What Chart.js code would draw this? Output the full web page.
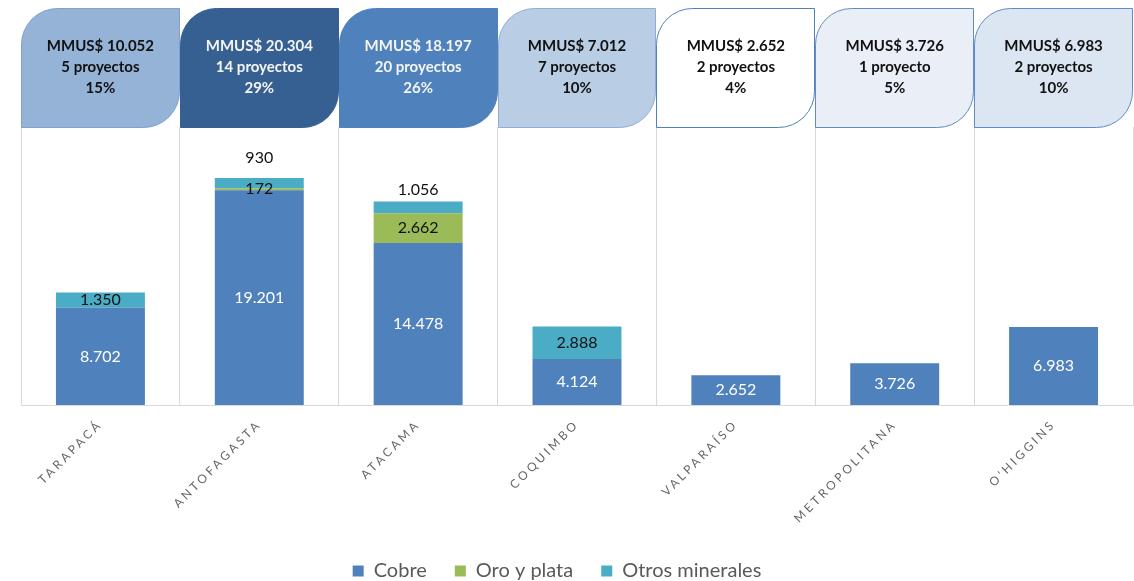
<!DOCTYPE html>
<html lang="es">
<head>
<meta charset="utf-8">
<title>Inversión minera por región</title>
<script src="https://cdn.jsdelivr.net/npm/chart.js@4.4.1/dist/chart.umd.min.js"></script>
<style>
  html, body { margin: 0; padding: 0; background: #ffffff; }
  #wrap { width: 1134px; height: 581px; }
</style>
</head>
<body>
<div id="wrap"><canvas id="mineriaChart"></canvas></div>
<script>
/*====================================
        DATA
====================================*/

const regiones = ["TARAPACÁ", "ANTOFAGASTA", "ATACAMA", "COQUIMBO",
                  "VALPARAÍSO", "METROPOLITANA", "O'HIGGINS"];

const cobre    = [8702, 19201, 14478, 4124, 2652, 3726, 6983];
const oroPlata = [0, 172, 2662, 0, 0, 0, 0];
const otros    = [1350, 930, 1056, 2888, 0, 0, 0];

// header boxes
const totalMMUS     = [10052, 20304, 18197, 7012, 2652, 3726, 6983];
const proyectos     = [5, 14, 20, 7, 2, 1, 2];
const participacion = [15, 29, 26, 10, 4, 5, 10];

const yMax = 24860;

/*====================================
        HELPERS
====================================*/

function fmt(v){
    return String(v).replace(/\B(?=(\d{3})+(?!\d))/g, ".");
}

const boxFill   = ["#95b3d7", "#376092", "#4f81bd", "#b9cde5", "#ffffff", "#e9eef7", "#dce6f2"];
const boxStroke = ["#7fa1cc", "#376092", "#4f81bd", "#8eaed6", "#4f81bd", "#5f8cc4", "#5f8cc4"];
const boxText   = ["#111111", "#f4f4f4", "#f4f4f4", "#111111", "#111111", "#111111", "#111111"];

/*====================================
        PLUGINS
====================================*/

// values on the bars + header boxes
const barLabels = {
    id: "barLabels",
    afterLayout(chart){
        // legend sits a little left of the plot centre
        if(chart.legend){
            chart.legend.left -= 20;
            chart.legend.right -= 20;
        }
    },
    beforeDraw(chart){
        chart.ctx.letterSpacing = "0px";
    },
    afterDatasetsDraw(chart){
        const ctx = chart.ctx;
        ctx.save();
        ctx.font = "16px Lato";
        ctx.textAlign = "center";
        ctx.textBaseline = "middle";

        chart.data.datasets.forEach((ds, di) => {
            const meta = chart.getDatasetMeta(di);
            meta.data.forEach((bar, i) => {
                const v = ds.data[i];
                if(!v) return;
                const h = Math.abs(bar.base - bar.y);
                let y = (bar.y + bar.base) / 2;
                if(di === 2 && h < 13){
                    // too thin: put it on top, a bit higher if oro label is close
                    const oroH = oroPlata[i] * (chart.chartArea.height / yMax);
                    y = bar.y - (oroPlata[i] && oroH < 13 ? 20 : 12);
                }
                ctx.fillStyle = di === 0 ? "#ffffff" : "#111111";
                ctx.fillText(fmt(v), bar.x, y);
            });
        });
        ctx.restore();

        // x tick labels are drawn after this (ticks.z = 1), spaced out
        ctx.letterSpacing = "3px";
    },
    afterDraw(chart){
        const ctx = chart.ctx;
        ctx.letterSpacing = "0px";

        const x = chart.scales.x;
        const half = (x.right - x.left) / regiones.length / 2;
        const top = 8;
        const bottom = chart.chartArea.top;
        const r = 36;

        ctx.save();
        regiones.forEach((reg, i) => {
            const cx = x.getPixelForValue(i);
            const left = Math.round(cx - half) + 0.5;
            const right = Math.round(cx + half) - 0.5;

            ctx.beginPath();
            ctx.roundRect(left, top + 0.5, right - left, bottom - top, [r, 0, r, 0]);
            ctx.fillStyle = boxFill[i];
            ctx.fill();
            ctx.lineWidth = 1;
            ctx.strokeStyle = boxStroke[i];
            ctx.stroke();

            const cy = (top + bottom) / 2;
            ctx.fillStyle = boxText[i];
            ctx.font = "bold 15px Lato";
            ctx.textAlign = "center";
            ctx.textBaseline = "middle";
            ctx.fillText("MMUS$ " + fmt(totalMMUS[i]), cx, cy - 21);
            ctx.fillText(proyectos[i] + (proyectos[i] === 1 ? " proyecto" : " proyectos"), cx, cy);
            ctx.fillText(participacion[i] + "%", cx, cy + 21);
        });
        ctx.restore();
    }
};

/*====================================
        CHART
====================================*/

const mineriaChart = new Chart(

document.getElementById("mineriaChart"),

{

type: "bar",

data: {
    labels: regiones,
    datasets: [
        { label: "Cobre",           data: cobre,    backgroundColor: "#4f81bd", borderWidth: 0 },
        { label: "Oro y plata",     data: oroPlata, backgroundColor: "#9bbb59", borderWidth: 0 },
        { label: "Otros minerales", data: otros,    backgroundColor: "#4bacc6", borderWidth: 0 }
    ]
},

options: {
    responsive: true,
    maintainAspectRatio: false,
    animation: false,
    layout: {
        padding: { top: 127, left: 21, right: 1, bottom: -10 }
    },
    datasets: {
        bar: { categoryPercentage: 1, barPercentage: 0.56 }
    },
    scales: {
        x: {
            stacked: true,
            grid: { offset: true, color: "#d9d9d9", drawTicks: false },
            border: { color: "#d9d9d9" },
            ticks: {
                z: 1,
                minRotation: 45,
                maxRotation: 45,
                padding: 12,
                color: "#666666",
                font: { family: "Lato", size: 12 }
            },
            afterFit(scale){ scale.height = 128; }
        },
        y: {
            stacked: true,
            display: false,
            min: 0,
            max: yMax
        }
    },
    plugins: {
        legend: {
            position: "bottom",
            labels: {
                color: "#595959",
                font: { family: "Lato", size: 20 },
                boxWidth: 11,
                boxHeight: 11,
                padding: 28
            }
        },
        tooltip: { enabled: false }
    }
},

plugins: [barLabels]

});
</script>
</body>
</html>
